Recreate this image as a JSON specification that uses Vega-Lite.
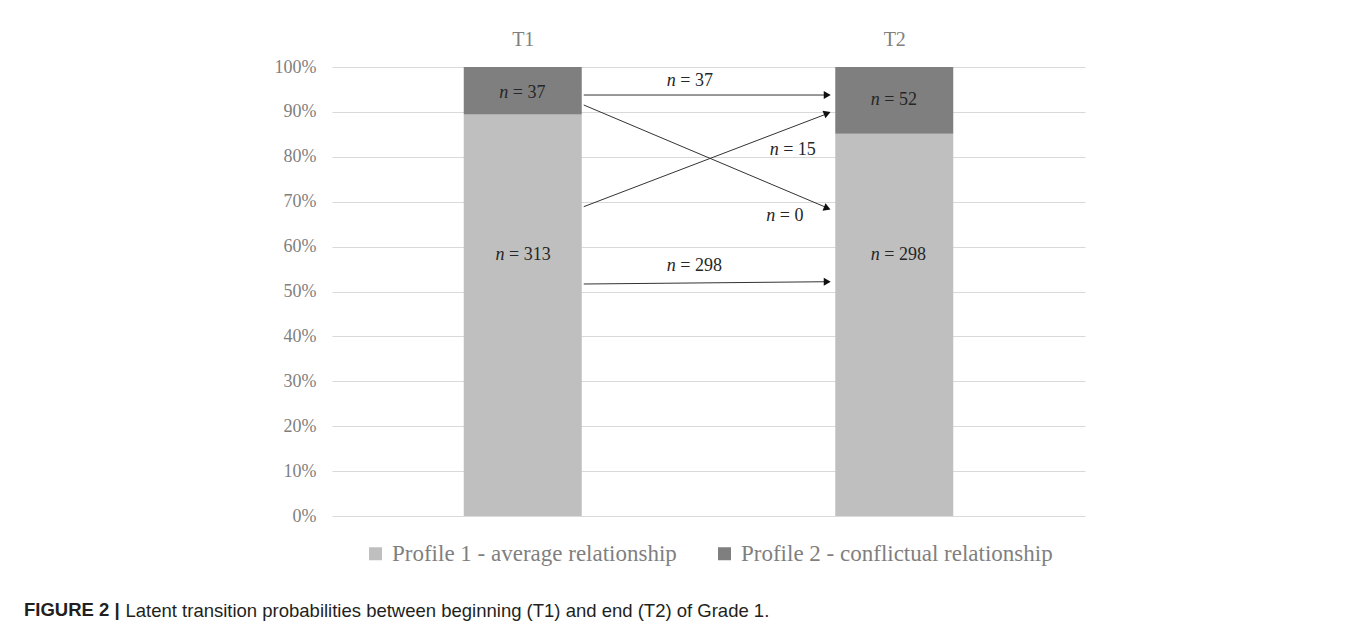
{
  "$schema": "https://vega.github.io/schema/vega-lite/v6.json",
  "autosize": "none",
  "width": 753,
  "height": 449,
  "padding": {"left": 332, "top": 67, "right": 272, "bottom": 115},
  "background": "white",
  "config": {
    "view": {"stroke": null},
    "font": "Liberation Serif",
    "legend": {"layout": {"bottom": {"anchor": "middle"}}}
  },
  "title": {
    "text": "FIGURE 2 |",
    "orient": "bottom",
    "anchor": "start",
    "frame": "group",
    "dx": -308,
    "offset": -19,
    "font": "Liberation Sans",
    "fontSize": 18.5,
    "fontWeight": "bold",
    "color": "#231f20"
  },
  "datasets": {
    "bars": [
      {"time": 1, "profile": "Profile 1 - average relationship", "n": 313},
      {"time": 1, "profile": "Profile 2 - conflictual relationship", "n": 37},
      {"time": 2, "profile": "Profile 1 - average relationship", "n": 298},
      {"time": 2, "profile": "Profile 2 - conflictual relationship", "n": 52}
    ],
    "arrows": [
      {"from": 1, "to": 2, "y_from": 0.9376, "y_to": 0.9376, "n": 37},
      {"from": 1, "to": 2, "y_from": 0.9154, "y_to": 0.6853, "n": 0},
      {"from": 1, "to": 2, "y_from": 0.6889, "y_to": 0.8969, "n": 15},
      {"from": 1, "to": 2, "y_from": 0.5167, "y_to": 0.5218, "n": 298}
    ],
    "labels": [
      {"x": 1, "y": 0.941, "rest": "= 37"},
      {"x": 2, "y": 0.927, "rest": "= 52"},
      {"x": 0.99, "y": 0.581, "rest": "= 313"},
      {"x": 2, "y": 0.581, "rest": "= 298"},
      {"x": 1.451, "y": 0.9695, "rest": "= 37"},
      {"x": 1.728, "y": 0.815, "rest": "= 15"},
      {"x": 1.719, "y": 0.668, "rest": "= 0"},
      {"x": 1.451, "y": 0.557, "rest": "= 298"}
    ]
  },
  "layer": [
    {
      "data": {"name": "bars"},
      "mark": {"type": "bar", "width": 118},
      "encoding": {
        "x": {
          "field": "time",
          "type": "quantitative",
          "title": null,
          "scale": {"domain": [0.5, 2.5], "nice": false, "zero": false},
          "axis": {
            "orient": "top",
            "values": [1, 2],
            "labelExpr": "'T' + datum.value",
            "title": null,
            "domain": false,
            "ticks": false,
            "grid": false,
            "labelFont": "Liberation Serif",
            "labelFontSize": 20,
            "labelColor": "#7f7f7f",
            "labelPadding": 18
          }
        },
        "y": {
          "field": "n",
          "type": "quantitative",
          "title": "Latent transition probabilities between beginning (T1) and end (T2) of Grade 1.",
          "stack": "normalize",
          "scale": {"domain": [0, 1], "nice": false},
          "axis": {
            "values": [0, 0.1, 0.2, 0.3, 0.4, 0.5, 0.6, 0.7, 0.8, 0.9, 1],
            "format": ".0%",
            "titleAngle": 0,
            "titleAlign": "left",
            "titleBaseline": "alphabetic",
            "titleX": -207,
            "titleY": 549,
            "titleFont": "Liberation Sans",
            "titleFontSize": 18.5,
            "titleFontWeight": "normal",
            "titleColor": "#231f20",
            "domain": false,
            "ticks": false,
            "grid": true,
            "gridColor": "#d9d9d9",
            "gridWidth": 1,
            "labelFont": "Liberation Serif",
            "labelFontSize": 18,
            "labelColor": "#7f7f7f",
            "labelPadding": 16
          }
        },
        "color": {
          "field": "profile",
          "type": "nominal",
          "scale": {
            "domain": ["Profile 1 - average relationship", "Profile 2 - conflictual relationship"],
            "range": ["#bfbfbf", "#7f7f7f"]
          },
          "legend": {
            "title": null,
            "orient": "bottom",
            "direction": "horizontal",
            "symbolType": "square",
            "symbolSize": 169,
            "symbolStrokeWidth": 0,
            "labelFont": "Liberation Serif",
            "labelFontSize": 23,
            "labelColor": "#7f7f7f",
            "labelLimit": 0,
            "labelOffset": 5,
            "columnPadding": 36,
            "offset": 26
          }
        },
        "order": {"field": "profile", "sort": "ascending"}
      }
    },
    {
      "data": {"name": "arrows"},
      "mark": {"type": "rule", "color": "#333333", "strokeWidth": 1, "xOffset": 61, "x2Offset": -66},
      "encoding": {
        "x": {"field": "from", "type": "quantitative", "title": null},
        "x2": {"field": "to"},
        "y": {"field": "y_from", "type": "quantitative", "title": "Latent transition probabilities between beginning (T1) and end (T2) of Grade 1."},
        "y2": {"field": "y_to"}
      }
    },
    {
      "data": {"name": "arrows"},
      "mark": {"type": "point", "shape": "triangle-right", "filled": true, "color": "#111111", "size": 65, "opacity": 1, "xOffset": -67},
      "encoding": {
        "x": {"field": "to", "type": "quantitative", "title": null},
        "y": {"field": "y_to", "type": "quantitative", "title": "Latent transition probabilities between beginning (T1) and end (T2) of Grade 1."},
        "angle": {
          "condition": [
            {"test": "datum.y_to < datum.y_from - 0.1", "value": 22},
            {"test": "datum.y_to > datum.y_from + 0.1", "value": 339}
          ],
          "value": 0
        }
      }
    },
    {
      "data": {"name": "labels"},
      "mark": {"type": "text", "font": "Liberation Serif", "fontStyle": "italic", "fontSize": 18, "align": "right", "baseline": "middle", "color": "#262626", "dx": -14.5},
      "encoding": {
        "x": {"field": "x", "type": "quantitative", "title": null},
        "y": {"field": "y", "type": "quantitative", "title": "Latent transition probabilities between beginning (T1) and end (T2) of Grade 1."},
        "text": {"value": "n"}
      }
    },
    {
      "data": {"name": "labels"},
      "mark": {"type": "text", "font": "Liberation Serif", "fontSize": 18, "align": "left", "baseline": "middle", "color": "#262626", "dx": -10},
      "encoding": {
        "x": {"field": "x", "type": "quantitative", "title": null},
        "y": {"field": "y", "type": "quantitative", "title": "Latent transition probabilities between beginning (T1) and end (T2) of Grade 1."},
        "text": {"field": "rest", "type": "nominal"}
      }
    }
  ]
}
